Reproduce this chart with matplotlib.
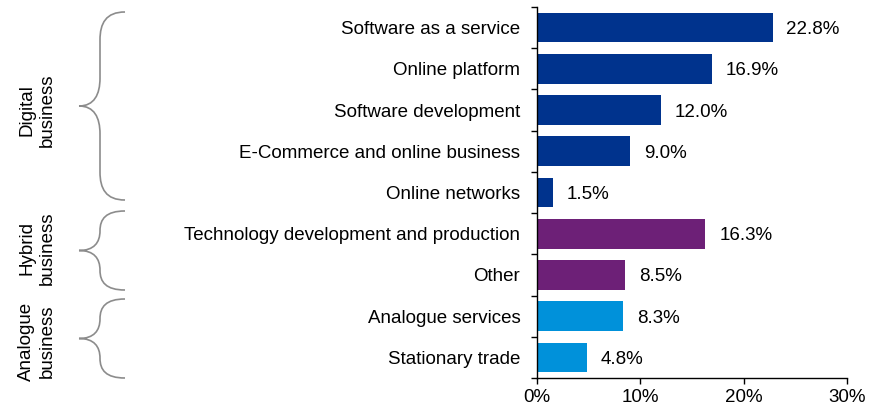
import matplotlib.pyplot as plt
from matplotlib.path import Path
from matplotlib.patches import PathPatch
from matplotlib.ticker import FixedLocator, PercentFormatter

plt.rcParams['font.family'] = ['Liberation Sans', 'DejaVu Sans']

categories = [
    "Software as a service",
    "Online platform",
    "Software development",
    "E-Commerce and online business",
    "Online networks",
    "Technology development and production",
    "Other",
    "Analogue services",
    "Stationary trade",
]
shares = [22.8, 16.9, 12.0, 9.0, 1.5, 16.3, 8.5, 8.3, 4.8]
groups = ["digital"] * 5 + ["hybrid"] * 2 + ["analogue"] * 2
group_colors = {"digital": "#00338D", "hybrid": "#6D2077", "analogue": "#0091DA"}

FS = 13.5
W, H = 880, 408
fig = plt.figure(figsize=(W / 100, H / 100), dpi=100)
ax = fig.add_axes([537 / W, 1 - 378 / H, 310 / W, 371 / H])

ypos = list(range(len(categories)))
colors = [group_colors[g] for g in groups]
ax.barh(ypos, shares, height=0.72, color=colors)
for y, v in zip(ypos, shares):
    ax.annotate(f"{v:.1f}%", (v, y), xytext=(10, 0), textcoords="offset points",
                va="center_baseline", ha="left", fontsize=FS)

ax.set_ylim(len(categories) - 0.5, -0.5)
ax.set_xlim(0, 30)
ax.set_yticks(ypos)
ax.set_yticklabels(categories, fontsize=FS, va="center_baseline")
ax.yaxis.set_minor_locator(FixedLocator([i - 0.5 for i in range(len(categories) + 1)]))
ax.tick_params(axis="y", which="major", length=0, pad=12)
ax.tick_params(axis="y", which="minor", length=4, width=1, direction="out")
ax.set_xticks([0, 10, 20, 30])
ax.xaxis.set_major_formatter(PercentFormatter(decimals=0))
ax.tick_params(axis="x", length=4, width=1, labelsize=FS, pad=4)
for side in ("top", "right"):
    ax.spines[side].set_visible(False)
for side in ("left", "bottom"):
    ax.spines[side].set_linewidth(1)


def brace(y0, y1, x_end=125, x_line=100, x_tip=79):
    # curly brace in pixel coordinates (y measured from the top)
    ym = (y0 + y1) / 2
    r = min(28, (ym - y0) / 2)
    pts = [
        (x_end, y0), (x_line + 6, y0), (x_line, y0 + r * 0.4), (x_line, y0 + r),
        (x_line, ym - r),
        (x_line, ym - r * 0.4), (x_line - 6, ym), (x_tip, ym),
        (x_line - 6, ym), (x_line, ym + r * 0.4), (x_line, ym + r),
        (x_line, y1 - r),
        (x_line, y1 - r * 0.4), (x_line + 6, y1), (x_end, y1),
    ]
    codes = [Path.MOVETO] + [Path.CURVE4] * 3 + [Path.LINETO] + [Path.CURVE4] * 6 \
        + [Path.LINETO] + [Path.CURVE4] * 3
    verts = [(x / W, 1 - y / H) for x, y in pts]
    fig.add_artist(PathPatch(Path(verts, codes), transform=fig.transFigure,
                             fill=False, edgecolor="#8c8c8c", linewidth=1.2))


brace(12, 200)
brace(211, 290)
brace(299, 378)

group_labels = [("Digital\nbusiness", 110), ("Hybrid\nbusiness", 248), ("Analogue\nbusiness", 341)]
for text, yc in group_labels:
    fig.text(37 / W, 1 - yc / H, text, rotation=90, ha="center", va="center",
             fontsize=FS, linespacing=1.25)

fig.savefig("out.png", dpi=100)
